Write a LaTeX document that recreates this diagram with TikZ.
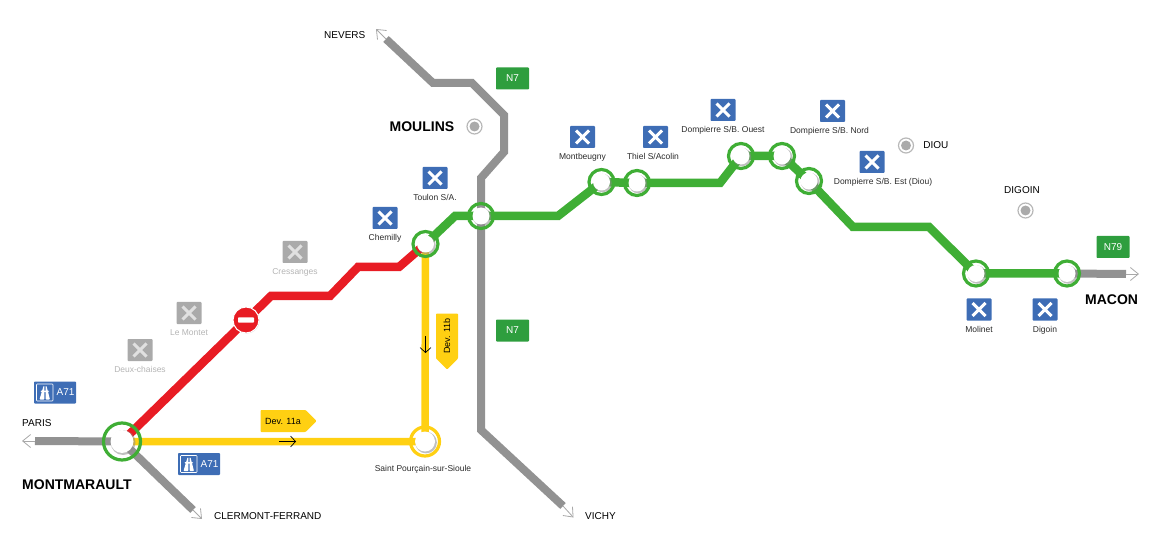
\documentclass[tikz,border=0pt]{standalone}
\usepackage{fontspec}
\setmainfont{Liberation Sans}
\usetikzlibrary{positioning}
\usetikzlibrary{backgrounds}
\usetikzlibrary{arrows.meta}
\usetikzlibrary{shadows}
\usetikzlibrary{shapes.symbols}
\definecolor{roadgray}{HTML}{929292}
\definecolor{tipgray}{HTML}{A8A8A8}
\definecolor{linegreen}{HTML}{3FAE35}
\definecolor{shieldgreen}{HTML}{2E9E3E}
\definecolor{linered}{HTML}{E81C24}
\definecolor{lineyellow}{HTML}{FFD012}
\definecolor{signblue}{HTML}{3E6DB5}
\definecolor{closedgray}{HTML}{AAAAAA}
\definecolor{closedtext}{HTML}{B4B4B4}
\definecolor{labeltext}{HTML}{2A2A2A}

\begin{document}
\begin{tikzpicture}[
            x = 1pt,
            y = -1pt,
            > = {Straight Barb[length=8pt,width=13pt]}, % arrow head style
            node distance = 1pt, % distance between icon and name
            inner sep = 0pt
        ]

        \tikzstyle{stopdisc}=[
            circle,
            fill = white,
            drop shadow = {shadow xshift=1pt, shadow yshift=-1pt, shadow scale=1.08, fill=black!45, opacity=.55}
        ]
        \tikzstyle{stop}=[
            circle,
            draw = linegreen,
            line width = 3.2pt,
            minimum size = 25pt,
            label = {[stopdisc, minimum size=17pt]center:}
        ]
        \tikzstyle{yellowstop}=[
            circle,
            draw = lineyellow,
            line width = 3.2pt,
            minimum size = 29pt,
            label = {[stopdisc, minimum size=20pt]center:}
        ]
        \tikzstyle{bigstop}=[
            circle,
            draw = linegreen,
            line width = 3.2pt,
            minimum size = 37pt,
            label = {[stopdisc, minimum size=23pt]center:}
        ]
        \tikzstyle{road}=[line width = 8pt, draw = roadgray]
        \tikzstyle{thin road}=[->, line width = .8pt, tipgray]
        \tikzstyle{exit}=[
            rounded corners = .8pt,
            fill = signblue,
            minimum width = 25pt,
            minimum height = 22pt,
            path picture = {
                \draw[white, line width = 3pt, shift = {(path picture bounding box.center)}]
                    (-6.5,-6.5) -- (6.5,6.5) (-6.5,6.5) -- (6.5,-6.5);
            }
        ]
        \tikzstyle{closed exit}=[
            exit,
            fill = closedgray,
            path picture = {
                \draw[black!12, line width = 3pt, shift = {(path picture bounding box.center)}]
                    (-6.5,-6.5) -- (6.5,6.5) (-6.5,6.5) -- (6.5,-6.5);
            }
        ]
        \tikzstyle{exitlabel}=[font = \fontsize{8.5}{10}\selectfont, text = labeltext]
        \tikzstyle{closedlabel}=[exitlabel, text = closedtext]
        \tikzstyle{place}=[font = \fontsize{10}{12}\selectfont, text = black]
        \tikzstyle{city}=[font = \fontsize{14}{16}\selectfont\bfseries, text = black]
        \tikzstyle{town}=[
            circle,
            draw = black!28,
            line width = 1.2pt,
            minimum size = 15pt,
            path picture = {
                \fill[closedgray] (path picture bounding box.center) circle (5pt);
            }
        ]
        \tikzstyle{shield}=[
            rounded corners = .8pt,
            fill = shieldgreen,
            text = white,
            minimum width = 33pt,
            minimum height = 22pt,
            font = \fontsize{10}{12}\selectfont
        ]
        \tikzstyle{motorway}=[
            rounded corners = .8pt,
            fill = signblue,
            minimum width = 42pt,
            minimum height = 22pt,
            path picture = {
                \draw[white, line width = .6pt, shift = {(path picture bounding box.center)}] (-18.5,-8.5) rectangle (-2,8.5);
                \fill[white, shift = {(path picture bounding box.center)}] (-14.5,-2) rectangle (-6,-.5);
                \fill[white, shift = {(path picture bounding box.center)}] (-11.5,-6.5) -- (-10.6,-6.5) -- (-10.6,7) -- (-15.5,7) -- cycle;
                \fill[white, shift = {(path picture bounding box.center)}] (-9.4,-6.5) -- (-8.5,-6.5) -- (-5,7) -- (-9.4,7) -- cycle;
            }
        ]
        \tikzstyle{motorwaytext}=[text = white, font = \fontsize{10}{12}\selectfont]
        \tikzstyle{detour}=[
            signal,
            signal from = nowhere,
            rounded corners = .8pt,
            fill = lineyellow,
            text = black,
            minimum height = 22pt,
            minimum width = 56pt,
            font = \fontsize{9}{11}\selectfont
        ]

        \useasboundingbox (0,0) rectangle (1160,548);

        % junctions
        \node[bigstop] (MM) at (122,441.5) {};
        \node[stop] (CH) at (425.5,244) {};
        \node[stop] (N7) at (481,216) {};
        \node[stop] (MB) at (601.5,182) {};
        \node[stop] (TH) at (637,183) {};
        \node[stop] (DO) at (741,156) {};
        \node[stop] (DN) at (782,156) {};
        \node[stop] (DE) at (809,181) {};
        \node[stop] (ML) at (976,273.5) {};
        \node[stop] (DG) at (1067,273.5) {};
        \node[yellowstop] (SP) at (425,441.5) {};

        % corners of the lines
        \coordinate (r1) at (271,296);
        \coordinate (r2) at (330,296);
        \coordinate (r3) at (358,267);
        \coordinate (r4) at (399,267);
        \coordinate (g1) at (455,216);
        \coordinate (g2) at (558,216);
        \coordinate (g3) at (720,183);
        \coordinate (g4) at (853,227);
        \coordinate (g5) at (929,227);

        \coordinate (n1) at (386,39);
        \coordinate (n2) at (433,83);
        \coordinate (n3) at (472,83);
        \coordinate (n4) at (504,115);
        \coordinate (n5) at (504,152);
        \coordinate (n6) at (481,178);
        \coordinate (n7) at (481,430);
        \coordinate (n8) at (563,506);
        \coordinate (nTip) at (376,29);
        \coordinate (vTip) at (573.5,517.5);

        \coordinate (pa) at (35,441);
        \coordinate (paTip) at (22,441);
        \coordinate (cf) at (193,510);
        \coordinate (cfTip) at (202,519);
        \coordinate (ma) at (1126,274);
        \coordinate (maTip) at (1139,274);

        \begin{scope}[on background layer]
            \draw[road] (n1) -- (n2) -- (n3) -- (n4) -- (n5) -- (n6) -- (n7) -- (n8);
            \draw[road] (pa) -- (MM.center);
            \draw[road] (MM.center) -- (cf);
            \draw[road] (DG.center) -- (ma);
            \draw[line width = 7.5pt, lineyellow] (MM.center) -- (SP.center) -- (CH.center);
            \draw[line width = 8.5pt, linered] (MM.center) -- (r1) -- (r2) -- (r3) -- (r4) -- (CH.center);
            \draw[line width = 8.5pt, linegreen] (CH.center) -- (g1) -- (N7.center) -- (g2) -- (MB.center) -- (TH.center) -- (g3) -- (DO.center) -- (DN.center) -- (DE.center) -- (g4) -- (g5) -- (ML.center) -- (DG.center);
        \end{scope}

        % ends of the roads
        \path[thin road] (pa) edge (paTip);
        \path[thin road] (cf) edge (cfTip);
        \path[thin road] (ma) edge (maTip);
        \path[thin road] (n1) edge (nTip);
        \path[thin road] (n8) edge (vTip);

        % no entry
        \node[
            circle,
            fill = linered,
            draw = white,
            line width = 1pt,
            minimum size = 26pt,
            drop shadow = {shadow xshift=.6pt, shadow yshift=-.6pt, fill=black!30, opacity=.5},
            path picture = {
                \fill[white, rounded corners = .8pt, shift = {(path picture bounding box.center)}] (-8,-2.7) rectangle (8,2.7);
            }
        ] (NE) at (246,320) {};

        % closed exits
        \node[closed exit] (DC) at (140,350) {};
        \node[closedlabel] (DCname) [below=5pt of DC] {Deux-chaises};
        \node[closed exit] (LM) at (189,313) {};
        \node[closedlabel] (LMname) [below=5pt of LM] {Le Montet};
        \node[closed exit] (CR) at (295,252) {};
        \node[closedlabel] (CRname) [below=5pt of CR] {Cressanges};

        % open exits
        \node[exit] (XCH) at (385,218) {};
        \node[exitlabel] (XCHname) [below=5pt of XCH] {Chemilly};
        \node[exit] (XTO) at (435,178) {};
        \node[exitlabel] (XTOname) [below=5pt of XTO] {Toulon S/A.};
        \node[exit] (XMB) at (582.5,137) {};
        \node[exitlabel] (XMBname) [below=5pt of XMB] {Montbeugny};
        \node[exit] (XTH) at (655.5,137) {};
        \node[exitlabel] (XTHname) [below=5pt of XTH, xshift=-2.5pt] {Thiel S/Acolin};
        \node[exit] (XDO) at (723,110) {};
        \node[exitlabel] (XDOname) [below=5pt of XDO] {Dompierre S/B. Ouest};
        \node[exit] (XDN) at (832.5,111) {};
        \node[exitlabel] (XDNname) [below=5pt of XDN, xshift=-3pt] {Dompierre S/B. Nord};
        \node[exit] (XDE) at (872,162) {};
        \node[exitlabel] (XDEname) [below=5pt of XDE, xshift=11pt] {Dompierre S/B. Est (Diou)};
        \node[exit] (XML) at (979,309.5) {};
        \node[exitlabel] (XMLname) [below=5pt of XML] {Molinet};
        \node[exit] (XDG) at (1045,309.5) {};
        \node[exitlabel] (XDGname) [below=5pt of XDG] {Digoin};

        \node[exitlabel] (SPname) at (423,469) {Saint Pourçain-sur-Sioule};

        % towns
        \node[town] (TMO) at (474.5,126.5) {};
        \node[city] (TMOname) [left=12pt of TMO] {MOULINS};
        \node[town] (TDI) at (906,145.5) {};
        \node[place] (TDIname) [right=9pt of TDI] {DIOU};
        \node[town] (TDG) at (1025.5,210.5) {};
        \node[place] (TDGname) [above=9pt of TDG, xshift=-3.5pt] {DIGOIN};

        % places at the ends
        \node[place, anchor=west] (PA) at (22,423.5) {PARIS};
        \node[city, anchor=west] (MMname) at (22,484.5) {MONTMARAULT};
        \node[place, anchor=west] (CF) at (214,516) {CLERMONT-FERRAND};
        \node[place, anchor=west] (NV) at (324,35) {NEVERS};
        \node[place, anchor=west] (VI) at (585,516) {VICHY};
        \node[city, anchor=west] (MA) at (1085,299.5) {MACON};

        % road signs
        \node[shield] (S1) at (512.5,78.5) {N7};
        \node[shield] (S2) at (512.5,330.5) {N7};
        \node[shield] (S3) at (1113,247) {N79};
        \node[motorway] (A1) at (55,392.5) {};
        \node[motorwaytext] (A1name) at (65.5,392.5) {A71};
        \node[motorway] (A2) at (199,464) {};
        \node[motorwaytext] (A2name) at (209.5,464) {A71};

        % detours
        \node[detour, signal to = east] (D1) at (283,421) {Dev. 11a};
        \node[detour, signal to = west, rotate = 90] (D2) at (447,336) {Dev. 11b};

        \coordinate (a1) at (279,441.5);
        \coordinate (a2) at (296,441.5);
        \coordinate (b1) at (425.5,336);
        \coordinate (b2) at (425.5,353);
        \path[->, line width = .7pt, black, >={Straight Barb[length=5pt,width=11pt]}] (a1) edge (a2);
        \path[->, line width = .7pt, black, >={Straight Barb[length=5pt,width=11pt]}] (b1) edge (b2);

\end{tikzpicture}
\end{document}
